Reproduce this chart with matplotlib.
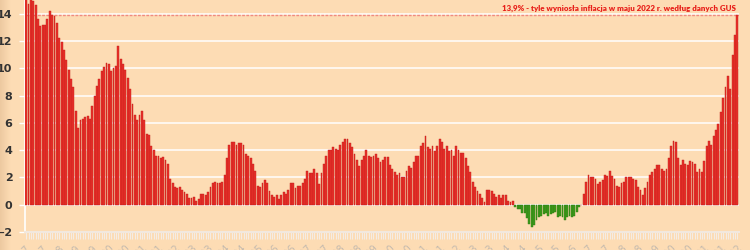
import matplotlib
matplotlib.use('Agg')
import matplotlib.pyplot as plt
import numpy as np

# CPI y/y (%), one list per year
cpi_1997 = [15.4, 14.7, 15.4, 14.9, 14.6, 13.6, 13.1, 13.2, 13.2, 13.6]  # from Mar, first ones clipped
cpi_1998 = [14.2, 13.9, 13.8, 13.3, 12.2, 11.9, 11.3, 10.6, 9.9, 9.2, 8.6]
cpi_1999 = [6.9, 5.6, 6.2, 6.3, 6.4, 6.5, 6.3, 7.2, 8.0, 8.7, 9.2, 9.8]
cpi_2000 = [10.1, 10.4, 10.3, 9.8, 10.0, 10.2, 11.6, 10.7, 10.3, 9.9, 9.3, 8.5]
cpi_2001 = [7.4, 6.6, 6.2, 6.6, 6.9, 6.2, 5.2, 5.1, 4.3, 4.0, 3.6, 3.6]
cpi_2002 = [3.4, 3.5, 3.3, 3.0, 1.9, 1.6, 1.3, 1.2, 1.3, 1.1, 0.9, 0.8]
cpi_2003 = [0.5, 0.5, 0.6, 0.3, 0.4, 0.8, 0.8, 0.7, 0.9, 1.3, 1.6, 1.7]
cpi_2004 = [1.6, 1.6, 1.7, 2.2, 3.4, 4.4, 4.6, 4.6, 4.4, 4.5, 4.5, 4.4]
cpi_2005 = [3.7, 3.6, 3.4, 3.0, 2.5, 1.4, 1.3, 1.6, 1.8, 1.6, 1.0, 0.7]
cpi_2006 = [0.6, 0.7, 0.4, 0.7, 0.9, 0.8, 1.1, 1.6, 1.6, 1.2, 1.4, 1.4]
cpi_2007 = [1.6, 1.9, 2.5, 2.3, 2.3, 2.6, 2.3, 1.5, 2.3, 3.0, 3.6, 4.0]
cpi_2008 = [4.0, 4.2, 4.1, 4.0, 4.4, 4.6, 4.8, 4.8, 4.5, 4.2, 3.7, 3.3]
cpi_2009 = [2.8, 3.3, 3.6, 4.0, 3.6, 3.5, 3.6, 3.7, 3.4, 3.1, 3.3, 3.5]
cpi_2010 = [3.5, 2.9, 2.6, 2.4, 2.2, 2.3, 2.0, 2.0, 2.5, 2.8, 2.7, 3.1]
cpi_2011 = [3.6, 3.6, 4.3, 4.5, 5.0, 4.2, 4.1, 4.3, 3.9, 4.3, 4.8, 4.6]
cpi_2012 = [4.1, 4.3, 3.9, 4.0, 3.6, 4.3, 4.0, 3.8, 3.8, 3.4, 2.8, 2.4]
cpi_2013 = [1.7, 1.3, 1.0, 0.8, 0.5, 0.2, 1.1, 1.1, 1.0, 0.8, 0.6, 0.7]
cpi_2014 = [0.5, 0.7, 0.7, 0.3, 0.2, 0.3, -0.2, -0.3, -0.3, -0.6, -0.6, -1.0]
cpi_2015 = [-1.4, -1.6, -1.5, -1.1, -0.9, -0.8, -0.7, -0.6, -0.8, -0.7, -0.6, -0.5]
cpi_2016 = [-0.9, -0.8, -0.9, -1.1, -0.9, -0.8, -0.9, -0.8, -0.5, -0.2, 0.0, 0.8]
cpi_2017 = [1.7, 2.2, 2.0, 2.0, 1.9, 1.5, 1.7, 1.8, 2.2, 2.1, 2.5, 2.1]
cpi_2018 = [1.9, 1.4, 1.3, 1.6, 1.7, 2.0, 2.0, 2.0, 1.9, 1.8, 1.3, 1.1]
cpi_2019 = [0.7, 1.2, 1.7, 2.2, 2.4, 2.6, 2.9, 2.9, 2.6, 2.5, 2.6, 3.4]
cpi_2020 = [4.3, 4.7, 4.6, 3.4, 2.9, 3.3, 3.0, 2.9, 3.2, 3.1, 3.0, 2.4]
cpi_2021 = [2.6, 2.4, 3.2, 4.3, 4.7, 4.4, 5.0, 5.5, 5.9, 6.8, 7.8, 8.6]
cpi_2022 = [9.4, 8.5, 11.0, 12.4, 13.9]

years = list(range(1997, 2023))
by_year = [cpi_1997, cpi_1998, cpi_1999, cpi_2000, cpi_2001, cpi_2002, cpi_2003,
           cpi_2004, cpi_2005, cpi_2006, cpi_2007, cpi_2008, cpi_2009, cpi_2010,
           cpi_2011, cpi_2012, cpi_2013, cpi_2014, cpi_2015, cpi_2016, cpi_2017,
           cpi_2018, cpi_2019, cpi_2020, cpi_2021, cpi_2022]

values = np.concatenate(by_year)
bar_year = np.concatenate([[y] * len(v) for y, v in zip(years, by_year)])
x = np.arange(len(values))

label_step = 7
target = 13.9
note = '13,9% - tyle wyniosła inflacja w maju 2022 r. według danych GUS'

bg = '#FDDCB4'
red = '#E8302A'
red_edge = '#C21D18'
green = '#3E9B1C'
green_edge = '#2C7A10'

fig = plt.figure(figsize=(7.5, 2.5), dpi=100)
fig.patch.set_facecolor(bg)

# darker strip on the far left, as in the original
strip = fig.add_axes([0, 0, 0.014, 1])
strip.imshow(np.linspace(0, 1, 20)[None, :], aspect='auto', extent=[0, 1, 0, 1],
             cmap=matplotlib.colors.LinearSegmentedColormap.from_list('s', ['#EDC9A0', bg]))
strip.axis('off')

ax = fig.add_axes([0.0333, 0.072, 0.952, 0.928])
ax.set_facecolor(bg)

colors = np.where(values >= 0, red, green)
edges = np.where(values >= 0, red_edge, green_edge)
ax.bar(x, values, width=0.78, color=colors, edgecolor=edges, linewidth=0.3, zorder=3)

ax.set_ylim(-2, 15)
ax.set_xlim(-0.5, len(values) - 0.3)
ax.set_yticks(np.arange(-2, 15, 2))
ax.yaxis.grid(True, color='white', linewidth=1.1, zorder=0)
ax.set_axisbelow(True)

# reference line + note
ax.axhline(target, color='#F08A80', linestyle=(0, (2, 1)), linewidth=1.0, zorder=2)
ax.text(len(values) - 1.5, target + 0.2, note, ha='right', va='bottom',
        color='#E8201A', fontsize=5.7, fontweight='heavy',
        family=['Lato', 'DejaVu Sans'], zorder=4)

for s in ['top', 'right']:
    ax.spines[s].set_visible(False)
ax.spines['left'].set_color('white')
ax.spines['bottom'].set_color('#F2E8DE')
ax.spines['left'].set_linewidth(1.2)
ax.spines['bottom'].set_linewidth(1.5)

ax.tick_params(axis='y', colors='white', length=4, width=1, pad=5, labelsize=8,
               labelcolor='#333333')
for t in ax.get_yticklabels():
    t.set_fontweight('bold')

major = x[::label_step]
ax.set_xticks(major)
ax.set_xticklabels([str(bar_year[i]) for i in major], rotation=45, ha='right',
                   rotation_mode='anchor', fontsize=7, color='#C4BAAE')
ax.set_xticks(x, minor=True)
ax.tick_params(axis='x', which='both', colors='#F4ECE4', length=5, width=0.8,
               labelcolor='#C4BAAE', pad=3)

plt.savefig('out.png', dpi=100, facecolor=bg)
